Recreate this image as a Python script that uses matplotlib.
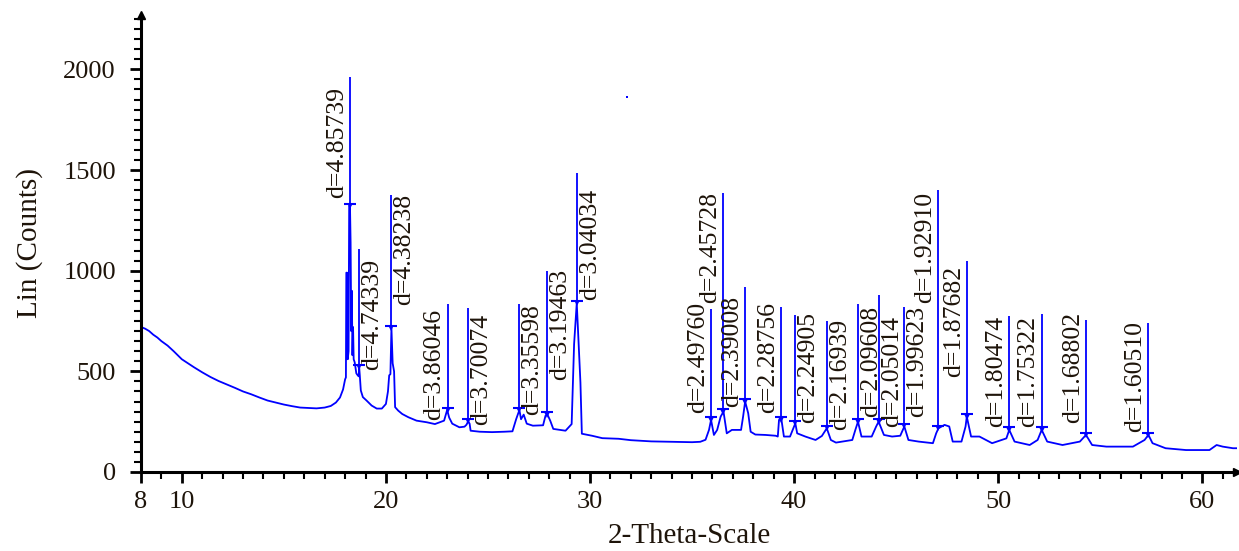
import numpy as np
import matplotlib
matplotlib.use('Agg')
import matplotlib.pyplot as plt
from matplotlib.ticker import MultipleLocator, FixedLocator, FuncFormatter

# measured diffractogram (2-theta in degrees, intensity in counts)
two_theta = [
    8.0, 8.2, 8.4, 8.6, 8.8, 9.0, 9.3, 9.6, 10.0, 10.3, 10.6, 11.0, 11.4, 11.8,
    12.2, 12.6, 13.0, 13.4, 13.8, 14.2, 14.6, 15.0, 15.4, 15.8, 16.2, 16.6, 17.0,
    17.3, 17.55, 17.75, 17.9, 18.0, 18.04, 18.06, 18.1, 18.13, 18.17, 18.2, 18.24,
    18.27, 18.3, 18.33, 18.36, 18.39, 18.42, 18.47, 18.55, 18.62, 18.67, 18.69,
    18.72, 18.77, 18.87, 19.05, 19.3, 19.55, 19.8, 20.0, 20.1, 20.16, 20.22, 20.27,
    20.33, 20.4, 20.45, 20.6, 20.8, 21.1, 21.5, 22.0, 22.4, 22.85, 23.0, 23.1,
    23.25, 23.6, 23.85, 23.95, 24.03, 24.1, 24.15, 24.6, 25.2, 25.8, 26.2, 26.38,
    26.54, 26.62, 26.75, 26.9, 27.2, 27.7, 27.82, 27.92, 28.05, 28.2, 28.8, 29.1,
    29.22, 29.35, 29.42, 29.53, 29.6, 30.1, 30.6, 31.4, 32.0, 33.0, 34.0, 35.0,
    35.4, 35.66, 35.83, 35.93, 36.07, 36.23, 36.4, 36.54, 36.7, 36.95, 37.4, 37.5,
    37.6, 37.75, 37.87, 38.1, 38.6, 39.1, 39.2, 39.26, 39.38, 39.5, 39.8, 40.06,
    40.15, 40.55, 41.05, 41.36, 41.6, 41.8, 42.05, 42.85, 43.0, 43.13, 43.3, 43.8,
    44.02, 44.14, 44.4, 44.8, 45.2, 45.4, 45.6, 46.1, 46.8, 46.96, 47.07, 47.37,
    47.6, 47.77, 48.2, 48.4, 48.46, 48.67, 49.08, 49.7, 50.4, 50.54, 50.8, 51.54,
    51.93, 52.13, 52.4, 53.15, 54.0, 54.3, 54.6, 55.3, 55.8, 56.6, 57.17, 57.36,
    57.56, 58.2, 59.2, 60.35, 60.7, 61.0, 61.5, 61.7,
]
counts = [
    720, 712, 700, 682, 668, 650, 628, 600, 560, 540, 520, 495, 472, 452,
    435, 418, 400, 386, 370, 355, 345, 335, 327, 320, 318, 316, 320,
    328, 345, 370, 410, 460, 470, 990, 990, 560, 600, 1320, 1320,
    1140, 700, 900, 580, 720, 560, 545, 490, 480, 475, 520,
    480, 405, 372, 355, 330, 315, 315, 338, 400, 480, 486, 715,
    540, 500, 322, 305, 288, 272, 255, 247, 238, 255, 308, 270,
    240, 222, 225, 235, 252, 240, 205, 200, 198, 200, 202, 262,
    308, 262, 285, 240, 230, 232, 280, 284, 255, 214, 205, 238,
    635, 839, 684, 445, 190, 180, 168, 165, 158, 152, 150, 148,
    150, 160, 209, 259, 184, 209, 275, 300, 192, 209, 209, 275,
    350, 292, 200, 186, 184, 180, 176, 259, 259, 176, 176, 242,
    192, 176, 159, 179, 217, 159, 146, 159, 209, 250, 176, 176,
    226, 250, 184, 176, 180, 226, 159, 151, 143, 192, 217, 234,
    226, 151, 151, 226, 275, 176, 176, 143, 167, 209, 151, 134,
    159, 209, 151, 134, 151, 184, 134, 126, 126, 126, 159, 184,
    143, 118, 109, 109, 134, 126, 118, 118,
]

# identified reflections: d-spacing (angstrom), peak intensity, stick top
d_spacing = [
    4.85739, 4.74339, 4.38238, 3.86046, 3.70074, 3.35598, 3.19463, 3.04034,
    2.49760, 2.45728, 2.39008, 2.28756, 2.24905, 2.16939, 2.09608, 2.05014,
    1.99623, 1.92910, 1.87682, 1.80474, 1.75322, 1.68802, 1.60510,
]
peak_counts = [
    1320, 520, 715, 308, 252, 308, 284, 839,
    259, 300, 350, 259, 242, 217, 250, 250,
    226, 217, 275, 209, 209, 184, 184,
]
stick_top = [
    1960, 1110, 1375, 835, 815, 835, 1000, 1486,
    810, 1386, 920, 820, 782, 752, 834, 877,
    820, 1400, 1046, 776, 784, 753, 740,
]

# label layout: side of the stick and height where the text starts
label_side = ['l', 'r', 'r', 'l', 'r', 'r', 'r', 'r',
              'l', 'l', 'l', 'l', 'r', 'r', 'r', 'r',
              'r', 'l', 'l', 'l', 'l', 'l', 'l']
label_base = [1363, 507, 831, 259, 234, 284, 458, 856,
              294, 841, 323, 294, 244, 209, 274, 224,
              274, 841, 473, 224, 224, 244, 199]

WAVELENGTH = 1.5406  # Cu K-alpha1
BLUE = '#0000ff'
TEXT = '#1e140a'

plt.rcParams['font.family'] = ['Liberation Serif', 'DejaVu Serif']

d = np.array(d_spacing)
peak_2theta = 2 * np.degrees(np.arcsin(WAVELENGTH / (2 * d)))

fig = plt.figure(figsize=(12.39, 5.51), dpi=100)
ax = fig.add_axes([0.1138, 0.1434, 0.8846, 0.8294])

ax.plot(two_theta, counts, color=BLUE, lw=1.3)
ax.vlines(peak_2theta, peak_counts, stick_top, color=BLUE, lw=1.3)
ax.plot(peak_2theta, peak_counts, 'v', color=BLUE, ms=5, mew=0)
ax.plot(peak_2theta, np.array(peak_counts) + 12, '_', color=BLUE, ms=8, mew=1.5)
# stray point in the raw export
ax.plot([31.8], [1865], 's', color=BLUE, ms=1.8, mew=0)

for x, dv, side, base in zip(peak_2theta, d_spacing, label_side, label_base):
    dx = -1.5 if side == 'l' else 1.5
    ax.annotate(f'd={dv:.5f}', xy=(x, base), xytext=(dx, 0),
                textcoords='offset points', rotation=90,
                ha='right' if side == 'l' else 'left', va='bottom',
                fontsize=18.5, color=TEXT)

ax.set_xlim(8, 61.7)
ax.set_ylim(0, 2270)

ax.xaxis.set_major_locator(FixedLocator([8, 10, 20, 30, 40, 50, 60]))
ax.xaxis.set_minor_locator(MultipleLocator(1))
ax.yaxis.set_major_locator(MultipleLocator(500))
ax.yaxis.set_minor_locator(MultipleLocator(50))
ax.yaxis.set_major_formatter(FuncFormatter(lambda v, p: f'{v:.0f}'))

ax.tick_params(axis='both', which='major', length=8, width=2, labelsize=19,
               labelcolor=TEXT, color='black')
ax.tick_params(axis='both', which='minor', length=5, width=1.5, color='black')
ax.tick_params(axis='x', which='major', pad=6)
ax.tick_params(axis='y', which='major', pad=10)

for side in ('top', 'right'):
    ax.spines[side].set_visible(False)
for side in ('left', 'bottom'):
    ax.spines[side].set_linewidth(2.2)

# arrow heads at the ends of both axes
ax.plot([0], [1], '^', color='black', ms=6, transform=ax.transAxes, clip_on=False)
ax.plot([1], [0], '>', color='black', ms=6, transform=ax.transAxes, clip_on=False)

ax.set_xlabel('2-Theta-Scale', fontsize=21, color=TEXT, labelpad=7)
ax.set_ylabel('Lin (Counts)', fontsize=21, color=TEXT, labelpad=15)

fig.savefig('out.png', dpi=100)
